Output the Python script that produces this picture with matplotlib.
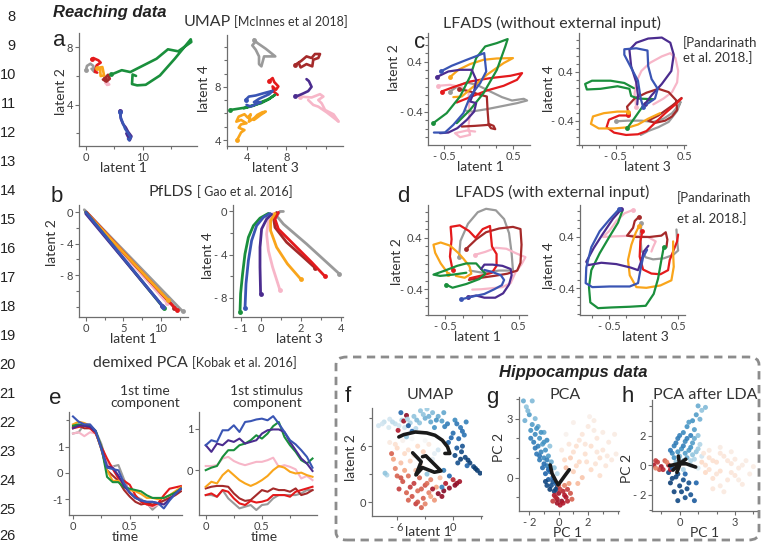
import matplotlib
matplotlib.use("Agg")
import matplotlib.pyplot as plt
from matplotlib.patches import FancyBboxPatch
import numpy as np

plt.rcParams['font.family'] = ['Lato', 'DejaVu Sans']

W, H = 762, 544

COL = {'gray': '#9a9a9a', 'pink': '#f7b6c8', 'darkred': '#a52a2a', 'red': '#e41a1c',
       'orange': '#f9a51b', 'green': '#1a8f3c', 'purple': '#4b2c8f', 'blue': '#3a55b4'}
ORDER = ['gray', 'pink', 'darkred', 'red', 'orange', 'green', 'purple', 'blue']

# ---- panel a : UMAP (latent 1/2)
a1_gray = [(0.0, 6.39), (0.2, 6.7), (0.8, 6.85), (1.3, 6.7), (1.5, 6.28), (1.0, 6.5)]
a1_red = [(1.0, 7.16), (1.3, 7.25), (2.2, 7.09), (2.6, 6.93), (1.9, 6.74), (1.6, 6.28), (2.0, 6.23)]
a1_orange = [(2.0, 6.55), (2.9, 6.62), (3.2, 6.03), (2.6, 5.99), (2.5, 6.46)]
a1_darkred = [(3.3, 5.84), (3.9, 6.08), (4.2, 5.8), (3.6, 5.6), (3.0, 5.75)]
a1_pink = [(3.6, 5.6), (4.1, 5.4), (3.7, 5.37)]
a1_green = [(4.5, 6.1), (6.3, 6.4), (7.8, 6.27), (12.4, 7.2), (14.4, 7.86), (16.2, 7.72), (18.5, 8.37),
            (18.4, 8.56), (15.6, 7.2), (13.0, 6.03), (10.5, 5.38), (9.0, 5.34), (8.1, 5.43), (8.2, 6.1), (8.8, 6.0)]
a1_purple = [(6.0, 3.58), (6.15, 3.0), (6.5, 2.65), (7.0, 2.4), (7.4, 2.1), (8.0, 1.78), (7.7, 1.5), (7.1, 1.98)]
a1_blue = [(6.0, 3.5), (6.1, 3.1), (6.9, 2.3), (7.9, 1.7), (7.6, 1.5), (7.4, 1.6)]

# ---- panel a : UMAP (latent 3/4)
a2_gray = [(4.72, 11.55), (5.06, 11.3), (5.9, 10.87), (6.87, 10.29), (5.74, 10.29), (5.47, 9.54),
           (5.23, 9.71), (5.23, 10.29), (4.9, 10.79), (4.55, 11.12), (4.9, 11.42)]
a2_darkred = [(8.89, 9.66), (9.5, 9.96), (10.02, 10.29), (10.53, 10.17), (10.87, 10.47), (11.38, 10.47),
              (11.21, 10.17), (10.7, 10.04), (10.6, 9.54), (10.02, 9.71), (9.43, 9.46), (9.23, 9.79)]
a2_red = [(6.26, 8.45), (6.6, 8.66), (6.77, 8.36), (7.18, 8.03), (6.94, 7.78), (6.6, 8.03), (6.7, 7.65), (7.11, 7.4)]
a2_purple = [(8.89, 7.33), (9.16, 7.33), (9.68, 7.5), (10.19, 7.68), (10.53, 8.0), (10.26, 8.43), (10.02, 8.58)]
a2_pink = [(9.33, 7.27), (10.53, 7.2), (11.38, 7.45), (11.72, 7.27), (11.21, 7.01), (11.55, 6.76), (11.89, 6.26),
           (12.75, 5.93), (13.26, 5.38), (12.75, 5.68), (12.06, 6.08), (11.21, 6.51), (10.7, 6.64), (10.19, 7.01)]
a2_blue = [(3.87, 7.02), (4.21, 7.27), (4.89, 7.35), (5.74, 7.53), (6.6, 7.7), (6.26, 7.45), (5.23, 7.1),
           (4.72, 6.85), (5.4, 6.85), (4.38, 6.52), (3.97, 6.64)]
a2_green = [(2.33, 6.26), (3.01, 6.34), (3.87, 6.44), (4.72, 6.64), (5.4, 6.76), (6.09, 7.02), (6.84, 7.4),
            (6.26, 7.09), (5.57, 6.89), (4.72, 6.59), (3.7, 6.39)]
a2_orange = [(3.01, 3.99), (3.42, 4.57), (3.76, 4.75), (3.18, 4.93), (3.42, 5.18), (3.97, 5.26), (3.42, 5.51),
             (2.94, 5.38), (3.18, 5.76), (3.76, 5.94), (4.1, 5.68), (4.38, 5.94), (4.21, 5.38), (4.79, 5.68),
             (5.06, 5.89), (5.57, 6.09), (5.91, 6.14), (5.4, 5.89), (4.72, 5.51)]

# ---- panel b : PfLDS
b1_green = [(0.0, 0.0), (10.4, -12.2)]
b1_blue = [(0.0, 0.0), (10.3, -12.0)]
b1_purple = [(0.0, -0.2), (10.2, -11.9)]
b1_pink = [(0.0, 0.0), (10.8, -11.5)]
b1_orange = [(0.0, 0.0), (10.9, -11.1)]
b1_darkred = [(0.0, 0.0), (11.8, -12.1)]
b1_red = [(0.1, 0.0), (12.1, -12.4)]
b1_gray = [(-0.2, 0.3), (12.9, -12.6)]

b2_green = [(0.37, -0.18), (-0.05, -0.62), (-0.38, -1.32), (-0.63, -2.4), (-0.8, -3.94), (-0.92, -5.78),
            (-1.02, -7.63), (-1.05, -9.33)]
b2_blue = [(0.45, -0.18), (0.12, -0.55), (-0.22, -1.32), (-0.47, -2.71), (-0.63, -4.55), (-0.75, -6.71), (-0.8, -9.0)]
b2_purple = [(0.53, -0.25), (0.28, -0.71), (0.03, -1.63), (-0.05, -3.32), (-0.05, -5.17), (-0.02, -7.63)]
b2_pink = [(0.62, -0.18), (0.37, -0.86), (0.28, -2.09), (0.37, -3.63), (0.58, -5.17), (0.95, -7.32)]
b2_orange = [(0.7, -0.18), (0.48, -0.86), (0.48, -1.78), (0.78, -3.32), (1.32, -4.86), (2.0, -6.31)]
b2_darkred = [(0.78, -0.09), (0.62, -0.55), (0.7, -1.48), (1.28, -2.86), (2.12, -4.25), (2.7, -5.23)]
b2_red = [(0.87, -0.09), (0.7, -0.71), (0.87, -1.63), (1.62, -3.02), (2.53, -4.71), (3.2, -6.03)]
b2_gray = [(1.12, 0.0), (0.95, 0.0), (0.78, -0.4), (1.12, -1.17), (2.28, -3.02), (3.92, -5.8)]

# ---- panel c : LFADS without external input
c1_green = [(-0.655, -0.581), (-0.461, -0.421), (-0.268, -0.155), (-0.123, 0.165), (-0.036, 0.459), (0.094, 0.645),
            (0.263, 0.699), (0.418, 0.763), (0.384, 0.645), (0.263, 0.272), (0.07, -0.101), (-0.123, -0.368), (-0.316, -0.581)]
c1_blue = [(-0.548, 0.245), (-0.389, 0.336), (-0.171, 0.432), (0.08, 0.539), (0.109, 0.245), (0.022, 0.059),
           (-0.123, -0.155), (-0.22, -0.421), (-0.365, -0.608), (-0.486, -0.731), (-0.645, -0.731)]
c1_orange = [(-0.413, 0.155), (-0.292, 0.272), (-0.123, 0.363), (0.07, 0.432), (0.263, 0.453), (0.495, 0.459),
             (0.36, 0.379), (0.118, 0.192), (-0.075, 0.005), (-0.244, -0.155), (-0.365, -0.165)]
c1_purple = [(-0.606, 0.155), (-0.437, 0.245), (-0.268, 0.272), (-0.099, 0.272), (-0.036, 0.112), (-0.065, -0.075),
             (-0.123, -0.235), (-0.036, -0.261), (-0.065, -0.395), (-0.171, -0.528), (-0.307, -0.661),
             (-0.437, -0.731), (-0.558, -0.741)]
c1_red = [(-0.534, -0.075), (-0.365, -0.005), (-0.123, 0.085), (0.167, 0.139), (0.457, 0.176), (0.626, 0.219),
          (0.553, 0.112), (0.36, 0.016), (0.118, -0.059), (-0.123, -0.165), (-0.316, -0.251)]
c1_pink = [(-0.582, 0.016), (-0.413, 0.032), (-0.244, -0.005), (-0.147, -0.075), (-0.138, -0.261), (-0.133, -0.475),
           (-0.147, -0.661), (-0.123, -0.768), (-0.268, -0.805), (-0.341, -0.741), (-0.171, -0.699), (-0.051, -0.715)]
c1_gray = [(-0.413, -0.075), (-0.292, 0.016), (-0.171, 0.069), (-0.027, 0.032), (0.167, -0.075), (0.336, -0.165),
           (0.481, -0.219), (0.65, -0.192), (0.698, -0.219), (0.553, -0.261), (0.36, -0.304), (0.118, -0.357),
           (-0.099, -0.395), (-0.196, -0.379)]
c1_darkred = [(-0.278, -0.037), (-0.123, -0.075), (0.022, -0.128), (0.118, -0.155), (0.128, -0.368), (0.143, -0.592),
              (0.215, -0.624), (0.239, -0.677), (0.176, -0.661), (0.143, -0.608), (-0.051, -0.624), (-0.244, -0.635)]

c2_green = [(-0.335, -0.528), (-0.225, -0.357), (-0.125, -0.197), (-0.025, -0.064), (0.05, -0.048), (-0.175, -0.037),
            (-0.275, 0.005), (-0.3, 0.123), (-0.475, 0.165), (-0.725, 0.123), (-0.925, 0.112), (-0.95, 0.203),
            (-0.85, 0.256), (-0.575, 0.256), (-0.375, 0.219), (-0.235, 0.133)]
c2_blue = [(-0.1, -0.171), (-0.135, -0.037), (-0.175, 0.256), (-0.275, 0.469), (-0.375, 0.683), (-0.375, 0.773),
           (-0.2, 0.789), (-0.035, 0.752), (-0.025, 0.496), (0.025, 0.283), (0.115, 0.123), (0.075, -0.037), (-0.05, -0.133)]
c2_purple = [(-0.075, -0.133), (0.025, 0.016), (0.175, 0.203), (0.315, 0.416), (0.35, 0.683), (0.3, 0.88),
             (0.175, 0.965), (-0.025, 0.949), (-0.2, 0.88), (-0.3, 0.763), (-0.275, 0.496), (-0.2, 0.229),
             (-0.175, 0.016), (-0.185, -0.133)]
c2_pink = [(-0.2, -0.171), (-0.225, 0.043), (-0.2, 0.229), (-0.125, 0.416), (0.0, 0.549), (0.175, 0.656),
           (0.3, 0.709), (0.375, 0.629), (0.415, 0.416), (0.4, 0.229), (0.325, 0.069), (0.2, -0.037), (0.05, -0.133)]
c2_darkred = [(-0.315, -0.277), (-0.335, -0.171), (-0.225, -0.037), (-0.05, 0.059), (0.125, 0.123), (0.275, 0.069),
              (0.385, -0.064), (0.4, -0.224), (0.325, -0.331), (0.225, -0.4), (0.075, -0.437), (-0.025, -0.4),
              (0.125, -0.315), (0.325, -0.155), (0.465, -0.027)]
c2_orange = [(-0.315, -0.251), (-0.475, -0.251), (-0.675, -0.277), (-0.835, -0.331), (-0.865, -0.453),
             (-0.75, -0.528), (-0.525, -0.528), (-0.3, -0.507), (-0.175, -0.464), (-0.025, -0.368), (0.15, -0.277)]
c2_red = [(-0.315, -0.315), (-0.45, -0.315), (-0.6, -0.384), (-0.635, -0.507), (-0.525, -0.597), (-0.35, -0.635),
          (-0.175, -0.624), (-0.05, -0.571), (0.075, -0.437), (0.225, -0.277), (0.375, -0.133), (0.465, -0.037)]
c2_gray = [(-0.5, -0.411), (-0.325, -0.4), (-0.125, -0.4), (0.05, -0.421), (0.2, -0.368), (0.325, -0.277),
           (0.435, -0.133), (0.45, -0.091), (0.4, -0.24), (0.275, -0.421), (0.125, -0.507), (-0.025, -0.571), (-0.135, -0.635)]

# ---- panel d : LFADS with external input
d1_gray = [(-0.309, 0.109), (-0.291, 0.352), (-0.189, 0.618), (-0.056, 0.798), (0.056, 0.851), (0.189, 0.827),
           (0.3, 0.691), (0.367, 0.473), (0.402, 0.158), (0.42, -0.109), (0.233, -0.109), (0.011, -0.143), (-0.167, -0.109)]
d1_red = [(-0.398, -0.095), (-0.433, 0.109), (-0.411, 0.376), (-0.424, 0.57), (-0.3, 0.594), (-0.176, 0.507),
          (-0.087, 0.4), (0.011, 0.536), (0.109, 0.584), (0.136, 0.264), (0.198, 0.148), (0.198, -0.036),
          (0.136, -0.143), (0.011, -0.182), (-0.167, -0.23)]
d1_darkred = [(-0.211, 0.23), (-0.078, 0.376), (0.056, 0.487), (0.233, 0.545), (0.42, 0.57), (0.522, 0.536),
              (0.536, 0.293), (0.522, 0.012), (0.478, -0.109), (0.344, -0.158), (0.167, -0.192), (-0.011, -0.221),
              (-0.176, -0.255)]
d1_orange = [(-0.456, -0.158), (-0.558, 0.002), (-0.633, 0.167), (-0.656, 0.293), (-0.558, 0.327), (-0.433, 0.279),
             (-0.322, 0.167), (-0.247, 0.07), (-0.167, -0.046), (-0.144, -0.158), (-0.233, -0.221), (-0.353, -0.192)]
d1_green = [(-0.487, -0.327), (-0.398, -0.376), (-0.211, -0.318), (-0.033, -0.24), (0.047, -0.158), (-0.011, -0.085),
            (-0.078, 0.002), (-0.211, 0.002), (-0.336, -0.036), (-0.5, -0.109), (-0.656, -0.172), (-0.567, -0.192),
            (-0.389, -0.172), (-0.211, -0.143)]
d1_pink = [(-0.1, 0.133), (0.047, 0.182), (0.189, 0.245), (0.331, 0.23), (0.464, 0.158), (0.589, 0.099),
           (0.536, -0.012), (0.456, -0.133), (0.389, -0.303), (0.278, -0.366), (0.122, -0.385), (-0.011, -0.4), (-0.131, -0.405)]
d1_blue = [(-0.278, -0.555), (-0.122, -0.512), (0.033, -0.473), (0.167, -0.4), (0.269, -0.337), (0.3, -0.255),
           (0.256, -0.182), (0.144, -0.133), (0.033, -0.099)]
d1_purple = [(-0.189, -0.521), (-0.078, -0.497), (0.033, -0.531), (0.18, -0.531), (0.287, -0.463), (0.367, -0.327),
             (0.402, -0.182), (0.389, -0.085), (0.278, -0.036), (0.144, -0.017), (0.033, -0.017), (-0.011, -0.085)]

d2_green = [(0.292, 0.241), (0.258, 0.04), (0.21, -0.252), (0.147, -0.49), (0.031, -0.676), (-0.2, -0.691),
            (-0.466, -0.702), (-0.659, -0.713), (-0.771, -0.623), (-0.79, -0.384), (-0.756, -0.119), (-0.635, 0.146),
            (-0.49, 0.411), (-0.37, 0.623), (-0.307, 0.808)]
d2_blue = [(-0.355, 0.834), (-0.49, 0.676), (-0.635, 0.49), (-0.756, 0.241), (-0.829, -0.077), (-0.838, -0.321),
           (-0.742, -0.384), (-0.49, -0.374), (-0.2, -0.374), (-0.08, -0.321), (-0.046, -0.119), (-0.007, 0.082), (0.051, 0.199)]
d2_purple = [(-0.321, 0.834), (-0.442, 0.686), (-0.587, 0.453), (-0.722, 0.225), (-0.829, 0.013), (-0.804, -0.04),
             (-0.611, -0.003), (-0.394, -0.024), (-0.191, -0.077), (-0.08, -0.119), (-0.031, 0.029), (0.002, 0.172), (0.07, 0.262)]
d2_pink = [(-0.152, 0.824), (-0.273, 0.771), (-0.394, 0.649), (-0.5, 0.49), (-0.587, 0.4), (-0.394, 0.411),
           (-0.152, 0.421), (0.065, 0.4), (0.176, 0.331), (0.138, 0.241), (0.114, 0.172)]
d2_darkred = [(-0.065, 0.718), (-0.128, 0.649), (-0.152, 0.543), (-0.239, 0.421), (-0.104, 0.4), (0.089, 0.4),
              (0.258, 0.421), (0.321, 0.474), (0.345, 0.358), (0.331, 0.241)]
d2_orange = [(-0.065, 0.57), (-0.114, 0.464), (-0.176, 0.278), (-0.225, 0.04), (-0.2, -0.199), (-0.104, -0.384),
             (0.041, -0.395), (0.244, -0.358), (0.403, -0.278), (0.437, -0.066), (0.428, 0.146), (0.428, 0.331)]
d2_red = [(-0.017, 0.49), (-0.046, 0.331), (-0.056, 0.093), (-0.007, -0.109), (0.114, -0.172), (0.244, -0.183),
          (0.355, -0.119), (0.379, 0.04), (0.437, 0.199), (0.486, 0.331), (0.5, 0.437)]
d2_gray = [(-0.031, 0.612), (-0.046, 0.411), (-0.031, 0.188), (0.031, 0.082), (0.138, 0.05), (0.292, 0.066),
           (0.428, 0.119), (0.5, 0.188), (0.486, 0.358), (0.476, 0.517)]

# ---- panel e : demixed PCA
t = [0, 0.05, 0.1, 0.15, 0.2, 0.25, 0.3, 0.35, 0.4, 0.45, 0.5, 0.55, 0.6, 0.65, 0.7, 0.75, 0.8, 0.85, 0.9, 0.95]
e1_blue = [2.15, 1.95, 1.85, 1.85, 1.6, 0.9, 0.2, 0.15, 0.1, -0.4, -0.75, -0.95, -1.05, -1.1, -1.1, -1.15, -1.35, -1.05, -0.8, -0.6]
e1_orange = [1.85, 1.95, 1.9, 1.8, 1.55, 0.9, 0.1, -0.3, -0.3, -0.5, -0.65, -0.7, -0.8, -0.95, -0.95, -1.0, -0.95, -0.85, -0.7, -0.55]
e1_green = [1.8, 1.85, 1.8, 1.8, 1.6, 1.0, -0.15, -0.35, -0.35, -0.55, -0.6, -0.65, -0.7, -0.85, -0.95, -0.95, -0.95, -0.85, -0.75, -0.6]
e1_red = [1.7, 1.75, 1.8, 1.7, 1.5, 1.0, 0.55, 0.15, -0.2, -0.3, -0.45, -0.85, -1.1, -1.2, -1.25, -1.15, -0.85, -0.6, -0.55, -0.5]
e1_darkred = [1.75, 1.8, 1.7, 1.7, 1.55, 0.9, 0.1, -0.1, -0.3, -0.65, -0.9, -1.1, -1.2, -1.15, -1.2, -1.15, -1.05, -0.95, -0.85, -0.7]
e1_pink = [1.5, 1.55, 1.4, 1.55, 1.5, 1.0, 0.3, 0.25, -0.2, -0.5, -0.75, -0.95, -1.05, -1.2, -1.3, -1.2, -1.05, -0.9, -0.8, -0.65]
e1_purple = [1.7, 1.8, 1.8, 1.75, 1.55, 0.95, 0.25, 0.2, -0.1, -0.5, -0.75, -0.95, -1.05, -1.1, -1.1, -1.15, -1.2, -1.0, -0.8, -0.6]
e1_gray = [1.5, 1.55, 1.85, 1.8, 1.6, 1.1, 0.35, 0.25, 0.3, -0.25, -0.75, -0.9, -1.0, -1.15, -1.4, -1.2, -1.05, -0.95, -0.8, -0.6]

e2_blue = [0.6, 0.72, 0.68, 0.96, 0.96, 1.08, 0.92, 1.16, 1.18, 1.22, 1.24, 1.2, 1.3, 1.12, 0.92, 0.72, 0.62, 0.48, 0.32, 0.06]
e2_purple = [0.6, 0.44, 0.64, 0.6, 0.72, 0.68, 0.76, 0.64, 0.68, 0.72, 0.88, 0.96, 0.98, 0.98, 0.92, 0.68, 0.48, 0.28, 0.16, -0.02]
e2_green = [0.0, 0.06, 0.1, 0.32, 0.48, 0.48, 0.6, 0.64, 0.72, 0.84, 0.76, 0.88, 1.06, 1.16, 0.8, 0.6, 0.44, 0.24, 0.16, 0.28]
e2_pink = [0.1, 0.1, 0.12, 0.28, 0.32, 0.22, 0.16, 0.12, 0.16, 0.2, 0.2, 0.24, 0.3, 0.08, 0.12, 0.08, 0.02, -0.2, -0.14, -0.24]
e2_orange = [-0.4, -0.28, -0.32, -0.12, 0.0, -0.12, -0.24, -0.32, -0.38, -0.32, -0.24, -0.14, 0.0, 0.1, 0.06, -0.04, -0.08, -0.06, -0.12, -0.16]
e2_darkred = [-0.44, -0.4, -0.38, -0.38, -0.4, -0.56, -0.68, -0.74, -0.72, -0.6, -0.48, -0.52, -0.44, -0.48, -0.48, -0.52, -0.44, -0.6, -0.56, -0.48]
e2_red = [-0.6, -0.56, -0.64, -0.48, -0.52, -0.68, -0.8, -0.84, -0.74, -0.78, -0.76, -0.72, -0.6, -0.6, -0.6, -0.64, -0.52, -0.48, -0.44, -0.4]
e2_gray = [-0.6, -0.6, -0.64, -0.48, -0.68, -0.8, -0.92, -0.88, -0.84, -0.96, -0.84, -0.82, -0.68, -0.6, -0.6, -0.6, -0.6, -0.56, -0.48, -0.48]

# ---- hippocampus panels: (x, y, position value 0=dark red .. 1=dark blue)
f_pts = [(-8.0, 8.2, .6), (-7.4, 8.6, .62), (-6.8, 8.9, .6), (-6.9, 8.0, .58), (-6.2, 8.4, .62), (-5.5, 8.8, .65),
         (-5.2, 8.0, .6), (-4.6, 8.5, .66), (-4.2, 9.2, .7), (-4.0, 7.9, .64), (-5.6, 9.6, .9), (-5.0, 9.3, .05),
         (-4.8, 8.2, .92), (-5.9, 7.7, .1), (-4.4, 7.6, .9), (-5.3, 8.7, .08), (-3.5, 9.8, .7), (-2.8, 10.0, .68),
         (-2.2, 9.6, .72), (-3.0, 9.0, .74), (-2.4, 8.6, .76), (-1.6, 9.2, .75), (-1.2, 8.7, .78), (-3.6, 8.5, .7),
         (-2.0, 8.0, .8), (-1.0, 9.6, .76), (-0.6, 8.4, .85), (0.2, 8.8, .82), (0.8, 8.0, .86), (1.4, 8.6, .84),
         (0.0, 7.4, .88), (0.6, 6.8, .9), (1.2, 7.2, .87), (-0.5, 6.4, .9), (0.4, 5.8, .92), (1.0, 6.0, .93),
         (0.2, 5.0, .95), (0.8, 4.6, .97), (1.3, 4.8, .96), (1.8, 4.2, .97), (2.2, 3.8, .96), (2.6, 3.4, .98),
         (2.9, 3.1, .97), (1.5, 3.9, .9), (0.5, 4.2, .94), (-6.8, 6.4, .45), (-6.0, 5.8, .4), (-5.4, 6.6, .48),
         (-4.8, 5.6, .42), (-4.4, 6.8, .5), (-3.8, 6.0, .4), (-3.2, 5.4, .38), (-2.6, 6.2, .45), (-6.4, 4.6, .3),
         (-5.6, 4.2, .35), (-4.6, 4.4, .38), (-2.2, 4.6, .55), (-1.6, 5.6, .6), (-6.6, 5.2, .2), (-5.0, 7.0, .7),
         (-3.5, 4.0, .42), (-6.0, 2.8, .2), (-5.4, 2.2, .18), (-4.8, 2.8, .22), (-4.2, 2.0, .15), (-3.6, 2.6, .2),
         (-3.0, 1.8, .18), (-2.4, 2.4, .25), (-5.8, 1.4, .15), (-5.0, 1.0, .2), (-4.4, 0.6, .18), (-3.8, 1.2, .22),
         (-3.2, 0.4, .2), (-2.6, 1.0, .25), (-4.0, -0.2, .15), (-3.4, -0.6, .2), (-1.8, 1.6, .3), (-1.4, 2.6, .35),
         (-2.0, 0.2, .28), (-1.6, 0.9, .05), (-1.0, 1.2, .04), (-0.4, 1.5, .06), (0.2, 1.8, .05), (0.7, 2.2, .08),
         (-0.8, 2.0, .1), (0.0, 2.4, .12), (-1.2, 1.6, .85), (-7.1, 2.9, .65), (-7.3, 3.1, .7), (-1.0, 3.4, .85),
         (-0.4, 2.8, .9), (-2.8, 3.0, .7),
         (-7.6, 8.4, .6), (-6.5, 8.6, .63), (-5.8, 8.2, .6), (-4.9, 8.9, .66), (-3.9, 8.8, .72), (-3.2, 9.4, .7),
         (-2.6, 9.2, .74), (-1.8, 8.8, .8), (-0.9, 8.1, .84), (0.4, 8.4, .86), (1.0, 7.6, .88), (-0.2, 6.9, .9),
         (0.9, 5.4, .95), (1.6, 4.5, .97), (2.4, 3.6, .98), (-6.2, 6.2, .42), (-5.2, 5.2, .4), (-4.2, 5.0, .45),
         (-3.0, 6.6, .5), (-2.0, 5.2, .55), (-4.0, 3.4, .35), (-5.2, 3.4, .3), (-6.2, 3.6, .25), (-5.6, 2.6, .18),
         (-4.6, 1.6, .15), (-3.4, 1.4, .2), (-2.8, 2.0, .22), (-4.8, 0.2, .2), (-3.8, 0.0, .18), (-2.4, 0.6, .3),
         (-3.0, -0.2, .25), (-1.2, 0.6, .06), (0.4, 2.0, .06), (-2.2, 1.4, .08)]
f_traj1 = [(-5.82, 6.99), (-5.29, 7.24), (-4.06, 7.52), (-2.82, 7.42), (-1.94, 7.17), (-1.16, 6.64), (-0.6, 5.93),
           (-0.35, 5.22), (-0.88, 5.22)]
f_traj2 = [(-4.34, 5.29), (-3.42, 4.33), (-3.99, 2.91), (-3.28, 3.7), (-2.01, 3.2), (-1.3, 3.34), (-2.22, 4.26),
           (-2.93, 4.97), (-3.28, 4.87)]

g_pts = [(-2.4, 3.9, .75), (-2.2, 3.6, .7), (-1.8, 3.9, .72), (-2.0, 3.2, .78), (-2.3, 2.9, .74), (-1.6, 3.0, .72),
         (-1.4, 2.6, .76), (-1.9, 2.4, .8), (-1.6, 2.2, .82), (-1.3, 2.0, .8), (-1.7, 1.8, .85), (-1.4, 1.6, .84),
         (-1.1, 1.7, .78), (-1.5, 1.2, .86), (-1.2, 1.3, .83), (-0.9, 1.4, .8), (-1.3, 0.9, .85), (-1.0, 1.0, .82),
         (-0.7, 1.1, .78), (-1.1, 0.5, .88), (-0.8, 0.6, .85), (-0.5, 0.8, .75), (-0.9, 0.2, .9), (-0.6, 0.3, .87),
         (-0.3, 0.5, .7), (-0.7, -0.1, .92), (-0.4, 0.0, .9), (-0.1, 0.2, .65), (-0.5, -0.4, .94), (-0.2, -0.3, .9),
         (-0.8, 1.9, .82), (-1.0, 2.3, .76), (-0.6, 1.6, .7), (-0.9, -0.2, .96), (-0.6, -0.6, .97), (-0.3, -0.7, .96),
         (-0.1, -0.5, .95), (-0.8, -0.4, .95), (-0.3, -0.9, .1), (0.0, -0.8, .08), (0.3, -0.7, .12), (0.6, -0.6, .15),
         (-0.1, -1.1, .08), (0.2, -1.2, .06), (0.5, -1.0, .1), (0.8, -0.8, .18), (0.1, -1.4, .1), (-0.4, -1.2, .15),
         (0.4, -0.4, .25), (0.0, -0.4, .2), (0.7, -0.3, .3), (0.9, -1.1, .2), (0.5, 0.5, .35), (1.0, 0.3, .38),
         (1.4, 0.8, .4), (1.8, 1.2, .42), (2.2, 1.6, .42), (2.6, 2.0, .44), (3.0, 1.4, .44), (3.4, 1.8, .45),
         (3.8, 2.2, .46), (1.2, 1.6, .42), (1.6, 2.2, .44), (2.0, 2.6, .45), (2.4, 2.9, .46), (2.8, 1.0, .42),
         (3.2, 0.6, .44), (3.6, 0.9, .45), (0.8, 1.0, .38), (1.6, 0.0, .36), (2.2, 0.4, .4), (2.8, 0.1, .42),
         (0.2, 1.4, .45), (0.5, 2.2, .48), (1.0, 2.8, .47), (2.1, 3.1, .47), (3.9, 1.2, .46), (1.3, -0.3, .34),
         (-2.1, 3.4, .72), (-1.8, 2.7, .78), (-1.5, 2.5, .8), (-1.2, 2.3, .8), (-1.9, 2.0, .84), (-1.6, 1.5, .86),
         (-1.3, 1.1, .86), (-1.0, 0.7, .88), (-0.8, 0.9, .84), (-0.6, 0.6, .8), (-1.0, 1.8, .8), (-0.4, -0.2, .93),
         (-0.7, 0.4, .9), (-0.2, -0.6, .96), (-0.2, -1.0, .12), (0.4, -0.9, .1), (0.1, -0.6, .15), (0.6, -1.2, .12),
         (-0.1, -1.3, .08), (0.3, -1.3, .1), (1.0, 1.3, .42), (1.4, 1.9, .44), (1.8, 1.7, .44), (2.4, 2.4, .46),
         (2.6, 1.3, .44), (3.0, 2.3, .46), (1.2, 0.6, .4), (1.9, 0.8, .42), (2.5, 0.7, .43), (3.3, 1.1, .45),
         (0.7, 1.7, .44), (0.4, 0.9, .4)]
g_traj = [(-0.58, 0.64), (-0.45, 0.2), (-0.22, -0.13), (-0.04, -0.37), (0.16, -0.17), (0.45, 0.13), (0.72, 0.4)]

h_pts = [(1.0, 4.0, .75), (1.2, 3.7, .7), (0.9, 3.4, .78), (1.4, 3.9, .72), (1.1, 3.1, .74), (0.7, 3.0, .8),
         (0.4, 2.6, .8), (0.8, 2.4, .78), (0.2, 2.2, .82), (0.6, 2.0, .84), (1.0, 2.0, .7), (-0.1, 1.8, .85),
         (0.3, 1.6, .82), (0.7, 1.5, .78), (1.1, 1.4, .65), (-0.3, 1.3, .84), (0.1, 1.1, .8), (0.5, 1.0, .78),
         (0.9, 0.9, .7), (-0.4, 0.8, .82), (0.0, 0.6, .72), (0.4, 0.5, .75), (0.8, 0.4, .65), (1.2, 0.6, .6),
         (-0.2, 0.2, .7), (0.6, 0.0, .62), (1.0, -0.2, .58), (0.2, -0.3, .66), (-0.6, -0.5, .95), (-0.2, -0.8, .96),
         (0.2, -1.0, .94), (-0.5, -1.2, .97), (0.0, -1.4, .96), (0.4, -1.6, .95), (-0.3, -1.8, .96), (0.6, -2.0, .93),
         (0.9, -1.2, .9), (0.8, -2.4, .92), (0.3, -2.2, .94), (-1.4, 0.0, .1), (-1.2, 0.2, .15), (-1.0, -0.1, .08),
         (-0.8, 0.3, .2), (-0.6, 0.0, .12), (-1.1, -0.3, .18), (-0.5, -0.3, .1), (-1.3, -0.2, .25), (1.2, 0.2, .4),
         (1.6, 0.5, .42), (2.0, 0.2, .42), (2.4, 0.6, .44), (2.8, 0.1, .44), (3.2, -0.2, .45), (3.6, 0.3, .46),
         (4.0, -0.1, .46), (1.4, -0.5, .4), (1.8, -0.9, .42), (2.2, -0.4, .42), (2.6, -1.0, .44), (3.0, -0.7, .44),
         (3.4, -1.3, .45), (1.6, 1.0, .45), (2.2, 1.2, .46), (2.8, 0.9, .46), (1.8, -1.6, .44), (2.4, -1.8, .45),
         (3.8, -0.6, .46),
         (0.5, 2.9, .78), (0.0, 2.0, .84), (0.4, 1.8, .84), (0.8, 1.8, .75), (-0.2, 1.5, .85), (0.2, 1.3, .84),
         (0.6, 1.2, .8), (1.0, 1.1, .68), (-0.5, 1.0, .86), (-0.1, 0.9, .8), (0.3, 0.8, .78), (0.7, 0.7, .7),
         (-0.3, 0.5, .8), (0.2, 0.3, .72), (0.6, 0.3, .66), (-0.4, -0.2, .9), (-0.1, -0.6, .95), (0.3, -0.6, .9),
         (-0.4, -0.9, .96), (0.5, -1.2, .94), (0.1, -1.8, .95), (-0.1, -2.4, .95), (-1.3, 0.3, .15), (-0.9, -0.3, .12),
         (-0.7, 0.2, .25), (1.4, 0.0, .42), (1.8, 0.3, .42), (2.2, 0.8, .44), (2.6, 0.3, .44), (3.0, 0.4, .45),
         (3.4, 0.0, .46), (1.6, -0.3, .42), (2.0, -0.6, .43), (2.8, -0.5, .44), (2.2, -1.4, .45), (3.2, -1.0, .46),
         (1.3, 0.8, .44)]
h_traj1 = [(-0.55, -0.04), (-0.09, 0.09), (0.36, 0.09), (0.87, -0.13)]
h_traj2 = [(-0.07, 0.61), (0.0, 0.0), (-0.15, -0.49)]
h_traj3 = [(-0.36, -0.34), (0.09, 0.18), (0.33, 0.4)]


def group(prefix):
    g = globals()
    return {c: g[prefix + c] for c in ORDER}


fig = plt.figure(figsize=(W / 100, H / 100), dpi=100)


def add_ax(x0, y0, x1, y1):
    return fig.add_axes([x0 / W, 1 - y1 / H, (x1 - x0) / W, (y1 - y0) / H])


def ftext(px, py, s, ha='center', **kw):
    fig.text(px / W, 1 - py / H, s, ha=ha, va='center', **kw)


def style(ax, xt, xl, yt, yl, xm=(), ym=()):
    for s in ('top', 'right'):
        ax.spines[s].set_visible(False)
    for s in ('left', 'bottom'):
        ax.spines[s].set_color('#6e6e6e')
        ax.spines[s].set_linewidth(0.9)
    ax.set_xticks(xt, xl)
    ax.set_yticks(yt, yl)
    ax.set_xticks(list(xm), minor=True)
    ax.set_yticks(list(ym), minor=True)
    ax.tick_params(which='both', direction='out', color='#6e6e6e', width=0.8,
                   labelsize=8, labelcolor='#444444', pad=1.2)
    ax.tick_params(which='major', length=3)
    ax.tick_params(which='minor', length=2)
    ax.patch.set_alpha(0)


def traj(ax, data, lw=1.6, dot=0, ms=3.5):
    for name in ORDER:
        pts = data[name]
        xs = [p[0] for p in pts]
        ys = [p[1] for p in pts]
        ax.plot(xs, ys, color=COL[name], lw=lw, solid_joinstyle='round', solid_capstyle='round')
        ax.plot(xs[dot], ys[dot], 'o', color=COL[name], ms=ms, mew=0)


# panel a
ax = add_ax(79, 33, 197, 146)
traj(ax, group('a1_'), lw=1.9)
ax.set_xlim(-1.2, 19.5); ax.set_ylim(1.1, 9)
style(ax, [0, 10], ['0', '10'], [4, 8], ['4', '8'], [5, 15], [2, 6])
ax = add_ax(227, 35, 343, 146)
traj(ax, group('a2_'), lw=1.9)
ax.set_xlim(2.0, 13.7); ax.set_ylim(3.55, 11.9)
style(ax, [4, 8], ['4', '8'], [4, 8], ['4', '8'], [2, 6, 10, 12], [5, 6, 7, 9, 10, 11])

# panel b
ax = add_ax(79, 205, 188, 317)
traj(ax, group('b1_'), lw=2.0, dot=-1)
ax.set_xlim(-0.9, 13.6); ax.set_ylim(-13.3, 0.9)
style(ax, [0, 5, 10], ['0', '5', '10'], [0, -4, -8], ['0', '- 4', '- 8'], [2.5, 7.5, 12.5], [-2, -6, -10, -12])
ax = add_ax(233, 205, 343, 317)
traj(ax, group('b2_'), lw=2.0, dot=-1)
ax.set_xlim(-1.4, 4.1); ax.set_ylim(-9.8, 0.6)
style(ax, [-1, 0, 2, 4], ['- 1', '0', '2', '4'], [0, -4, -8], ['0', '- 4', '- 8'], [1, 3], [-2, -6])

lf_minor = [-0.8, -0.667, -0.533, -0.267, -0.133, 0, 0.133, 0.267, 0.533, 0.667, 0.8]
# panel c
ax = add_ax(428, 33, 530, 145)
traj(ax, group('c1_'))
ax.set_xlim(-0.73, 0.74); ax.set_ylim(-0.93, 0.86)
style(ax, [-0.5, 0.5], ['- 0.5', '0.5'], [0.4, -0.4], ['0.4', '- 0.4'], [-0.25, 0, 0.25], lf_minor)
ax = add_ax(579, 33, 686, 145)
traj(ax, group('c2_'))
ax.set_xlim(-1.04, 0.53); ax.set_ylim(-0.75, 1.04)
style(ax, [-0.5, 0.5], ['- 0.5', '0.5'], [0.4, -0.4], ['0.4', '- 0.4'], [-1.0, -0.75, -0.25, 0, 0.25], lf_minor + [0.933])

# panel d
ax = add_ax(428, 205, 527, 315)
traj(ax, group('d1_'))
ax.set_xlim(-0.73, 0.61); ax.set_ylim(-0.69, 0.91)
style(ax, [-0.5, 0.5], ['- 0.5', '0.5'], [0.4, -0.4], ['0.4', '- 0.4'], [-0.25, 0, 0.25], lf_minor)
ax = add_ax(580, 205, 685, 315)
traj(ax, group('d2_'))
ax.set_xlim(-0.92, 0.6); ax.set_ylim(-0.82, 0.9)
style(ax, [-0.5, 0.5], ['- 0.5', '0.5'], [0.4, -0.4], ['0.4', '- 0.4'], [-0.75, -0.25, 0, 0.25], lf_minor)

# panel e
ax = add_ax(69, 412, 182, 515)
for name in ORDER:
    ax.plot(t, globals()['e1_' + name], color=COL[name], lw=1.5)
ax.set_xlim(-0.035, 0.96); ax.set_ylim(-1.6, 2.32)
style(ax, [0, 0.5], ['0', '0.5'], [1, 0, -1], ['1', '0', '-1'], [0.25, 0.75], [2])
ax = add_ax(199, 412, 317, 515)
for name in ORDER:
    ax.plot(t, globals()['e2_' + name], color=COL[name], lw=1.5)
ax.set_xlim(-0.06, 0.99); ax.set_ylim(-1.08, 1.4)
style(ax, [0, 0.5], ['0', '0.5'], [1, 0], ['1', '0'], [0.25, 0.75], [])


def cloud(ax, pts, trajs):
    ax.scatter([p[0] for p in pts], [p[1] for p in pts], c=[p[2] for p in pts],
               cmap='RdBu', vmin=0, vmax=1, s=13, lw=0, alpha=0.9)
    for tr in trajs:
        ax.plot([p[0] for p in tr], [p[1] for p in tr], color='#1a1a1a', lw=2.6,
                solid_joinstyle='round', solid_capstyle='round')


ax = add_ax(372, 408, 482, 516)
cloud(ax, f_pts, [f_traj1, f_traj2])
ax.set_xlim(-8.7, 3.1); ax.set_ylim(-1.5, 10.1)
style(ax, [-6, 0], ['- 6', '0'], [0, 6], ['0', '6'], [-3, 3], [3, 9])
ax = add_ax(519, 397, 619, 511)
cloud(ax, g_pts, [g_traj])
ax.set_xlim(-2.7, 4.1); ax.set_ylim(-1.7, 4.1)
style(ax, [-2, 0, 2], ['- 2', '0', '2'], [0, 3], ['0', '3'], [-1, 1, 3, 4], [-1, 1, 2, 4])
ax = add_ax(652, 400, 758, 511)
cloud(ax, h_pts, [h_traj1, h_traj2, h_traj3])
ax.set_xlim(-1.5, 4.25); ax.set_ylim(-3.1, 4.4)
style(ax, [0, 3], ['0', '3'], [2, 0, -2], ['2', '0', '- 2'], [-1, 1, 2, 4], [-3, -1, 1, 3, 4])

# dashed hippocampus box
fig.patches.append(FancyBboxPatch((336 / W, 1 - 540 / H), (759 - 336) / W, (540 - 357) / H,
                                  boxstyle='round,pad=0,rounding_size=0.014', transform=fig.transFigure,
                                  fill=False, ec='#8c8c8c', lw=2.0, ls=(0, (3, 2))))

# line numbers
for n in range(8, 27):
    ftext(16, min(17 + 29 * (n - 8), 536), str(n), ha='right', fontsize=10.5, family='Liberation Sans', color='#222222')

# headings
ftext(110, 13, 'Reaching data', fontsize=12, family='Liberation Sans', weight='bold', style='italic', color='#222222')
ftext(573, 372, 'Hippocampus data', fontsize=12, family='Liberation Sans', weight='bold', style='italic', color='#222222')

# panel letters
for px, py, s in [(59, 40, 'a'), (57, 196, 'b'), (420, 42, 'c'), (403, 197, 'd'), (55, 398, 'e'),
                  (348, 397, 'f'), (492, 397, 'g'), (628, 397, 'h')]:
    ftext(px, py, s, fontsize=16, family='Liberation Sans', color='#222222')

# titles
TC = '#333333'
ftext(231, 22, 'UMAP', ha='right', fontsize=11.5, color=TC)
ftext(234, 22, '[McInnes et al 2018]', ha='left', fontsize=9, color=TC)
ftext(193, 192, 'PfLDS', ha='right', fontsize=11.5, color=TC)
ftext(197, 192, '[ Gao et al. 2016]', ha='left', fontsize=9, color=TC)
ftext(552, 23, 'LFADS (without external input)', fontsize=11.5, color=TC)
ftext(552, 192, 'LFADS (with external input)', fontsize=11.5, color=TC)
ftext(188, 363, 'demixed PCA', ha='right', fontsize=11.5, color=TC)
ftext(192, 363, '[Kobak et al. 2016]', ha='left', fontsize=9, color=TC)
ftext(145, 397, '1st time\ncomponent', fontsize=10, color=TC, linespacing=1.0)
ftext(267, 397, '1st stimulus\ncomponent', fontsize=10, color=TC, linespacing=1.0)
ftext(430, 395, 'UMAP', fontsize=11.5, color=TC)
ftext(565, 395, 'PCA', fontsize=11.5, color=TC)
ftext(705, 395, 'PCA after LDA', fontsize=11.5, color=TC)
ftext(683, 43, '[Pandarinath', ha='left', fontsize=9.5, color=TC)
ftext(683, 58, 'et al. 2018.]', ha='left', fontsize=9.5, color=TC)
ftext(677, 198, '[Pandarinath', ha='left', fontsize=9.5, color=TC)
ftext(677, 219, 'et al. 2018.]', ha='left', fontsize=9.5, color=TC)

# axis labels
LC = '#333333'
for px, py, s in [(123, 168, 'latent 1'), (275, 168, 'latent 3'), (133, 339, 'latent 1'), (299, 339, 'latent 3'),
                  (480, 167, 'latent 1'), (647, 167, 'latent 3'), (477, 337, 'latent 1'), (645, 337, 'latent 3'),
                  (125, 537, 'time'), (264, 537, 'time'), (428, 532, 'latent 1'), (568, 533, 'PC 1'),
                  (705, 533, 'PC 1')]:
    ftext(px, py, s, fontsize=10, color=LC)
for px, py, s in [(61, 92, 'latent 2'), (204, 89, 'latent 4'), (52, 243, 'latent 2'), (208, 256, 'latent 4'),
                  (394, 68, 'latent 2'), (549, 89, 'latent 4'), (397, 262, 'latent 2'), (549, 266, 'latent 4'),
                  (351, 458, 'latent 2'), (499, 447, 'PC 2'), (627, 468, 'PC 2')]:
    ftext(px, py, s, fontsize=10, color=LC, rotation=90)

fig.savefig('out.png', dpi=100)
